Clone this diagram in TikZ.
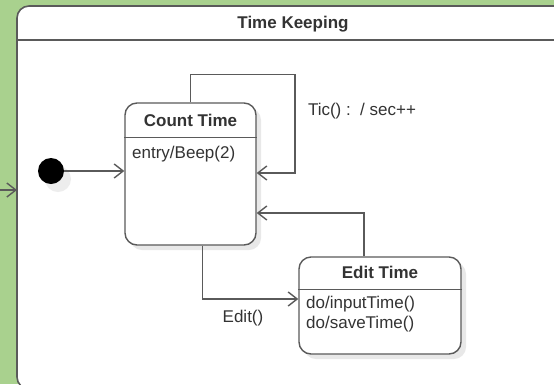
\documentclass[tikz,border=0pt]{standalone}
\usepackage{fontspec}
\setmainfont{Liberation Sans}
\usetikzlibrary{arrows.meta,shadows,positioning}
\definecolor{bggreen}{RGB}{169,209,142}
\definecolor{linegray}{RGB}{90,90,90}
\definecolor{textgray}{RGB}{51,51,51}

\begin{document}
\begin{tikzpicture}[x=1pt, y=-1pt,
    font=\fontsize{17}{20}\selectfont, text=textgray,
    state/.style={draw=linegray, line width=1.4pt, fill=white, rounded corners=12pt,
        drop shadow={shadow xshift=5pt, shadow yshift=-5pt, fill=black!9, opacity=1}},
    trans/.style={draw=linegray, line width=1.4pt, -{Straight Barb[length=9pt,width=14pt,line width=1.4pt]}},
    sep/.style={draw=linegray, line width=1.4pt}]
            \useasboundingbox (0,0) rectangle (554,384);
            \clip (0,0) rectangle (554,384);
            \fill[bggreen] (0,0) rectangle (554,384);

            % Outer state
            \draw[draw=linegray, line width=1.6pt, fill=white, rounded corners=12pt] (17,6) rectangle (600,389);
            \draw[sep] (17,40) -- (600,40);
            \node[font=\fontsize{17}{20}\selectfont\bfseries] (keeping) at (293,24) {Time Keeping};
            \coordinate (in-l) at (0,190);
            \coordinate (in-r) at (17,190);
            \draw[trans] (in-l) -- (in-r);

            % Initial state
            \node[circle, fill=black, inner sep=0pt, minimum size=26pt,
                drop shadow={shadow xshift=7pt, shadow yshift=-8pt, fill=black!7, opacity=1}] (init) at (51,171) {};

            % Count Time
            \node[state, minimum width=131pt, minimum height=142pt] (count-time) at (190.5,174) {};
            \draw[sep] ([yshift=-35pt]count-time.north west) -- ([yshift=-35pt]count-time.north east);
            \node[font=\fontsize{17}{20}\selectfont\bfseries] (count-title) at ([yshift=-18pt]count-time.north) {Count Time};
            \node[anchor=west, inner sep=0pt] (count-body) at (132,154) {entry/Beep(2)};

            % Edit Time
            \node[state, minimum width=162pt, minimum height=97pt] (edit-time) at (380,305.5) {};
            \draw[sep] ([yshift=-33pt]edit-time.north west) -- ([yshift=-33pt]edit-time.north east);
            \node[font=\fontsize{17}{20}\selectfont\bfseries] (edit-title) at ([yshift=-16pt]edit-time.north) {Edit Time};
            \node[anchor=north west, inner sep=0pt, align=left] (edit-body) at (306,296) {do/inputTime()\\do/saveTime()};

            % Transitions
            \coordinate (loop) at (295,173);
            \draw[trans] (init) -- (init -| count-time.west);
            \draw[trans] (count-time.north) -- ++(0,-28) -| (loop) -- (loop -| count-time.east);
            \draw[trans] ([xshift=12pt]count-time.south) |- (edit-time.west |- 0,299);
            \draw[trans] ([xshift=-16pt]edit-time.north) |- (count-time.east |- 0,213);
            \node (tic) at (362,111) {Tic() :\ \ / sec++};
            \node (edit-lbl) at (243,318) {Edit()};
        \end{tikzpicture}
\end{document}
